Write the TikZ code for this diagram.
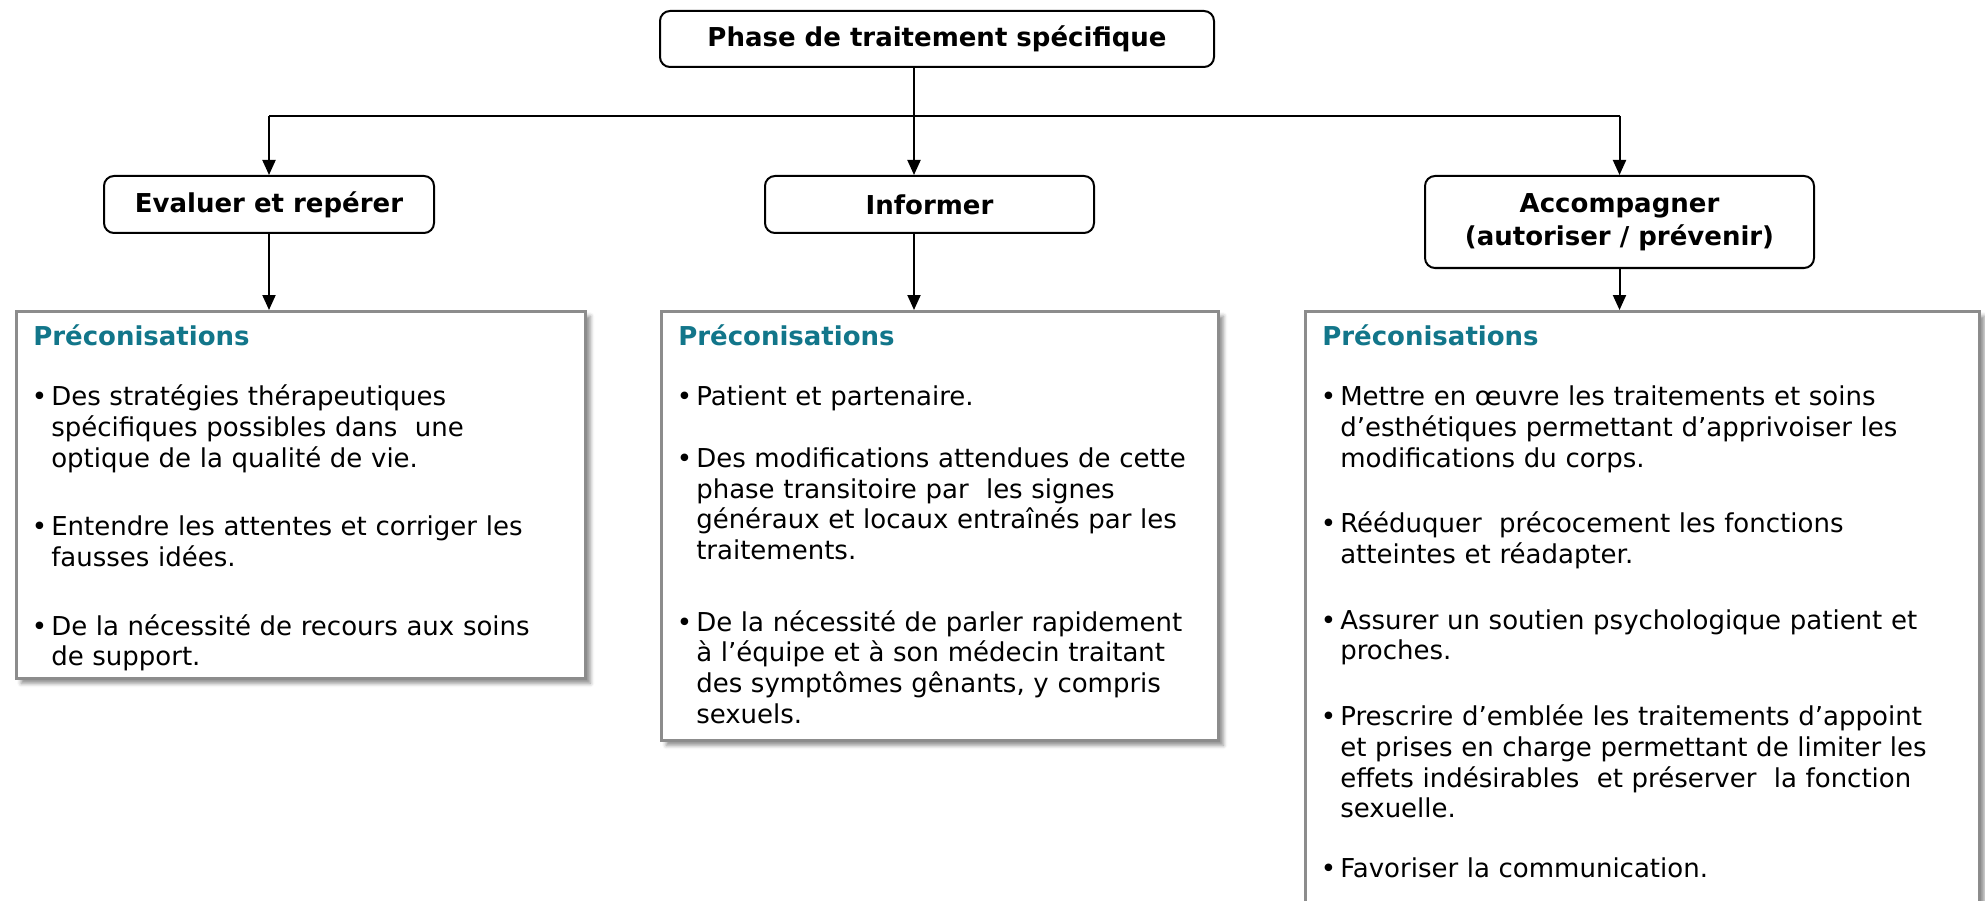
\documentclass[tikz,border=0pt]{standalone}
\usepackage{fontspec}
\setmainfont{DejaVu Sans}
\usetikzlibrary{arrows.meta,positioning,shadows.blur}

\definecolor{preco}{RGB}{18,118,138}
\definecolor{cadre}{RGB}{140,140,140}
\newcommand{\titre}{\leavevmode{\bfseries\color{preco}Préconisations}\par}
\newcommand{\puce}[1]{\par\hangindent=18pt\hangafter=1\noindent\makebox[18pt][l]{\hspace{-1.5pt}\textbullet}#1\par}

\begin{document}
\begin{tikzpicture}[x=1pt, y=-1pt,
    block/.style={rectangle, rounded corners=10pt, draw, line width=2pt, fill=white, align=center, font={\fontsize{26}{33}\selectfont\bfseries}},
    reco/.style={rectangle, draw=cadre, line width=2.5pt, fill=white, anchor=north west, inner xsep=17pt, inner ysep=0pt, text height=34.5pt, align=left, font={\fontsize{26}{30.7}\selectfont},
      blur shadow={shadow xshift=5pt, shadow yshift=-5pt, shadow blur radius=4pt, shadow opacity=45}},
    arrow/.style={-{Triangle[width=13pt,length=15pt]}, line width=2pt},
    trait/.style={line width=2pt}
  ]
  \useasboundingbox (0,0) rectangle (1985,901);
  % Nodes
  \node[block, minimum width=554pt, minimum height=56pt] (phase) at (937,39) {Phase de traitement spécifique};
  \node[block, minimum width=330pt, minimum height=57pt] (evaluer) at (269,204.5) {Evaluer et repérer};
  \node[block, minimum width=329pt, minimum height=57pt] (informer) at (929.5,204.5) {Informer};
  \node[block, minimum width=389pt, minimum height=92pt] (accompagner) at (1619.5,222) {Accompagner\\(autoriser / prévenir)};
  \coordinate (bus) at (914,116);

  \node[reco, text width=535pt, text depth=332.5pt] (recoEval) at (15,310) {\titre\vspace{29.3pt}
    \puce{Des stratégies thérapeutiques\newline spécifiques possibles dans~ une\newline optique de la qualité de vie.}\vspace{38pt}
    \puce{Entendre les attentes et corriger les\newline fausses idées.}\vspace{38pt}
    \puce{De la nécessité de recours aux soins\newline de support.}};
  \node[reco, text width=523pt, text depth=394.5pt] (recoInfo) at (660,310) {\titre\vspace{29.3pt}
    \puce{Patient et partenaire.}\vspace{31pt}
    \puce{Des modifications attendues de cette\newline phase transitoire par~ les signes\newline généraux et locaux entraînés par les\newline traitements.}\vspace{41pt}
    \puce{De la nécessité de parler rapidement\newline à l’équipe et à son médecin traitant\newline des symptômes gênants, y compris\newline sexuels.}};
  \node[reco, text width=640pt, text depth=570.5pt] (recoAcc) at (1304,310) {\titre\vspace{29.3pt}
    \puce{Mettre en œuvre les traitements et soins\newline d’esthétiques permettant d’apprivoiser les\newline modifications du corps.}\vspace{35pt}
    \puce{Rééduquer~ précocement les fonctions\newline atteintes et réadapter.}\vspace{35pt}
    \puce{Assurer un soutien psychologique patient et\newline proches.}\vspace{35pt}
    \puce{Prescrire d’emblée les traitements d’appoint\newline et prises en charge permettant de limiter les\newline effets indésirables~ et préserver~ la fonction\newline sexuelle.}\vspace{29pt}
    \puce{Favoriser la communication.}};

  % Arrows
  \draw[trait] (phase.south -| bus) -- (bus);
  \draw[trait] (evaluer.north |- bus) -- (accompagner.north |- bus);
  \draw[arrow] (evaluer.north |- bus) -- (evaluer.north);
  \draw[arrow] (bus) -- (bus |- informer.north);
  \draw[arrow] (accompagner.north |- bus) -- (accompagner.north);
  \draw[arrow] (evaluer.south) -- (evaluer.south |- recoEval.north);
  \draw[arrow] (bus |- informer.south) -- (bus |- recoInfo.north);
  \draw[arrow] (accompagner.south) -- (accompagner.south |- recoAcc.north);
\end{tikzpicture}
\end{document}
